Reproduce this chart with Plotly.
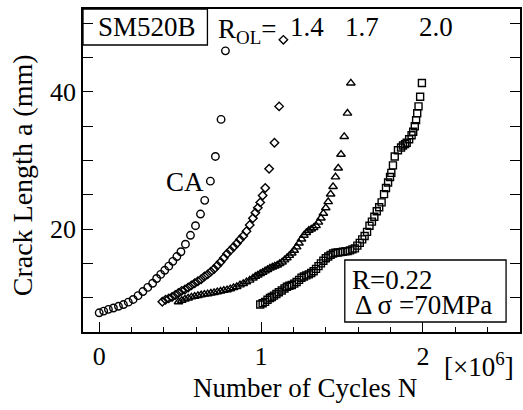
import plotly.graph_objects as go

# ---- data (N in 10^6 cycles, a in mm) ----
ca_N = [0.000, 0.028, 0.057, 0.088, 0.119, 0.150, 0.180, 0.210, 0.240, 0.270, 0.300, 0.330,
        0.355, 0.380, 0.405, 0.430, 0.455, 0.480, 0.505, 0.533, 0.564, 0.595, 0.626, 0.652,
        0.687, 0.718, 0.753, 0.780]
ca_a = [7.8, 8.05, 8.3, 8.5, 8.75, 9.0, 9.35, 9.75, 10.3, 10.9, 11.5, 12.1,
        12.8, 13.4, 14.0, 14.6, 15.3, 16.0, 16.7, 17.8, 19.1, 20.5, 22.2, 24.2,
        27.0, 30.6, 36.0, 46.0]

r14_N = [0.39, 0.41, 0.43, 0.45, 0.47, 0.49, 0.51, 0.53, 0.55, 0.57, 0.59, 0.61, 0.63, 0.65,
         0.67, 0.69, 0.71, 0.73, 0.75, 0.77, 0.79, 0.81, 0.83, 0.85, 0.87, 0.89, 0.91, 0.93,
         0.95, 0.965, 0.98, 0.995, 1.01, 1.026, 1.05, 1.083, 1.112, 1.138]
r14_a = [9.4, 9.7, 9.9, 10.1, 10.4, 10.7, 11.0, 11.2, 11.5, 11.8, 12.1, 12.4, 12.7, 13.1,
         13.4, 13.8, 14.2, 14.7, 15.2, 15.8, 16.4, 16.9, 17.4, 17.9, 18.5, 19.0, 19.7, 20.6,
         21.6, 22.4, 23.1, 23.9, 24.9, 26.0, 28.8, 32.6, 37.9, 47.6]

r17_N = [0.49, 0.51, 0.53, 0.55, 0.57, 0.59, 0.61, 0.63, 0.65, 0.67, 0.69, 0.71, 0.73, 0.75,
         0.77, 0.79, 0.81, 0.83, 0.85, 0.87, 0.89, 0.91, 0.93, 0.95, 0.965, 0.98, 0.995, 1.01,
         1.025, 1.04, 1.055, 1.07, 1.085, 1.10, 1.115, 1.13, 1.145, 1.16, 1.175, 1.19, 1.205,
         1.22, 1.235, 1.25, 1.265, 1.28, 1.295, 1.31, 1.325, 1.34, 1.355, 1.37, 1.385, 1.40,
         1.415, 1.43, 1.445, 1.46, 1.477, 1.494, 1.514, 1.534, 1.555]
r17_a = [9.4, 9.6, 9.8, 9.95, 10.1, 10.2, 10.3, 10.4, 10.5, 10.55, 10.65, 10.75, 10.85, 10.95,
         11.05, 11.15, 11.3, 11.45, 11.6, 11.85, 12.05, 12.3, 12.55, 12.85, 13.1, 13.3, 13.5, 13.7,
         13.9, 14.1, 14.3, 14.45, 14.6, 14.75, 14.95, 15.2, 15.5, 15.8, 16.15, 16.5, 16.9,
         17.4, 17.95, 18.55, 19.1, 19.5, 19.8, 20.0, 20.2, 20.5, 21.0, 21.6, 22.3, 23.1,
         24.0, 25.1, 26.2, 27.6, 28.9, 30.9, 33.5, 36.9, 41.3]

r20_N = [0.995, 1.01, 1.025, 1.04, 1.055, 1.067, 1.08, 1.095, 1.11, 1.128, 1.145, 1.16, 1.175,
         1.19, 1.205, 1.22, 1.235, 1.25, 1.265, 1.28, 1.295, 1.31, 1.325, 1.34, 1.355, 1.37,
         1.385, 1.40, 1.415, 1.43, 1.445, 1.46, 1.475, 1.49, 1.505, 1.52, 1.535, 1.55, 1.565,
         1.58, 1.595, 1.61, 1.625, 1.64, 1.655, 1.67, 1.685, 1.70, 1.715, 1.73, 1.745, 1.76,
         1.772, 1.785, 1.797, 1.805, 1.815, 1.826, 1.846, 1.865, 1.877, 1.89, 1.90, 1.915,
         1.93, 1.94, 1.95, 1.958, 1.965, 1.973, 1.983, 1.994]
r20_a = [9.0, 9.2, 9.4, 9.7, 9.95, 10.1, 10.3, 10.55, 10.8, 11.05, 11.35, 11.6, 11.75,
         11.85, 12.05, 12.3, 12.6, 12.9, 13.1, 13.25, 13.4, 13.6, 13.85, 14.2, 14.6, 15.0,
         15.4, 15.75, 16.0, 16.25, 16.45, 16.55, 16.6, 16.65, 16.7, 16.75, 16.8, 16.9, 17.05,
         17.2, 17.6, 18.0, 18.5, 19.0, 19.6, 20.5, 21.1, 21.8, 22.6, 23.2, 23.9, 25.1,
         26.0, 26.8, 27.6, 28.2, 29.3, 30.6, 31.5, 31.9, 32.2, 32.4, 32.6, 33.1,
         33.7, 34.2, 35.0, 35.9, 36.9, 37.9, 39.3, 41.3]

x_ticks = [0, 1, 2]
y_ticks = [20, 40]

FONT = "Liberation Serif"
W, H = 523, 410
L, R, T, B = 83, 1, 9, 78


def px(x, y):
    """pixel -> paper coordinates"""
    return (x - L) / (W - L - R), 1 - (y - T) / (H - T - B)


fig = go.Figure()
series = [
    (ca_N, ca_a, "circle-open", 7.5),
    (r14_N, r14_a, "diamond-open", 6.5),
    (r17_N, r17_a, "triangle-up-open", 7.5),
    (r20_N, r20_a, "square-open", 7),
]
for xs, ys, sym, sz in series:
    fig.add_trace(go.Scatter(
        x=xs, y=ys, mode="markers",
        marker=dict(symbol=sym, size=sz, color="black", line=dict(color="black", width=1.4)),
        showlegend=False, cliponaxis=False))

annotations = []


def add_text(text, x, y, size=25, xanchor="center", yanchor="middle", angle=0):
    px_, py_ = px(x, y)
    annotations.append(dict(text=text, x=px_, y=py_, xref="paper", yref="paper",
                            xanchor=xanchor, yanchor=yanchor, showarrow=False, textangle=angle,
                            font=dict(family=FONT, size=size, color="black")))


add_text("SM520B", 147, 27, size=27)
add_text("R<sub>OL</sub>=", 217, 31, size=27, xanchor="left")
add_text("1.4", 308, 27, size=27)
add_text("1.7", 363, 27, size=27)
add_text("2.0", 438, 27, size=27)
add_text("CA", 185, 182, size=27)
add_text("R=0.22", 351, 280, size=27, xanchor="left")
add_text("Δ σ =70MPa", 354, 305, size=27, xanchor="left")
add_text("Number of Cycles N", 306, 388, size=27)
add_text("[×10<sup>6</sup>]", 481, 365, size=27)
add_text("Crack Length a (mm)", 22, 175, size=28, angle=-90)

shapes = []
for (x0, y0, x1, y1) in [(83, 9, 208, 45), (346, 260, 508, 322)]:
    a0 = px(x0, y0)
    a1 = px(x1, y1)
    shapes.append(dict(type="rect", xref="paper", yref="paper", x0=a0[0], y0=a1[1],
                       x1=a1[0], y1=a0[1], line=dict(color="black", width=1.3),
                       fillcolor="rgba(0,0,0,0)"))

fig.update_layout(
    width=W, height=H,
    margin=dict(l=L, r=R, t=T, b=B, pad=0),
    paper_bgcolor="white", plot_bgcolor="white",
    font=dict(family=FONT, size=26, color="black"),
    annotations=annotations, shapes=shapes,
    xaxis=dict(range=[-0.1, 2.6], tickvals=x_ticks, ticktext=[str(v) for v in x_ticks],
               ticks="inside", ticklen=10, tickwidth=1.3, tickcolor="black",
               showline=True, linecolor="black", linewidth=1.5, mirror=True,
               showgrid=False, zeroline=False,
               tickfont=dict(family=FONT, size=26, color="black"),
               minor=dict(dtick=0.2, tick0=0, ticks="inside", ticklen=5, tickwidth=1.2,
                          tickcolor="black", showgrid=False)),
    yaxis=dict(range=[5.0, 52.1], tickvals=y_ticks, ticktext=[str(v) for v in y_ticks],
               ticks="inside", ticklen=10, tickwidth=1.3, tickcolor="black",
               showline=True, linecolor="black", linewidth=1.5, mirror="ticks",
               showgrid=False, zeroline=False,
               tickfont=dict(family=FONT, size=26, color="black"),
               minor=dict(dtick=5, tick0=0, ticks="inside", ticklen=10, tickwidth=1.2,
                          tickcolor="black", showgrid=False)),
)

fig.write_html("out.html")
